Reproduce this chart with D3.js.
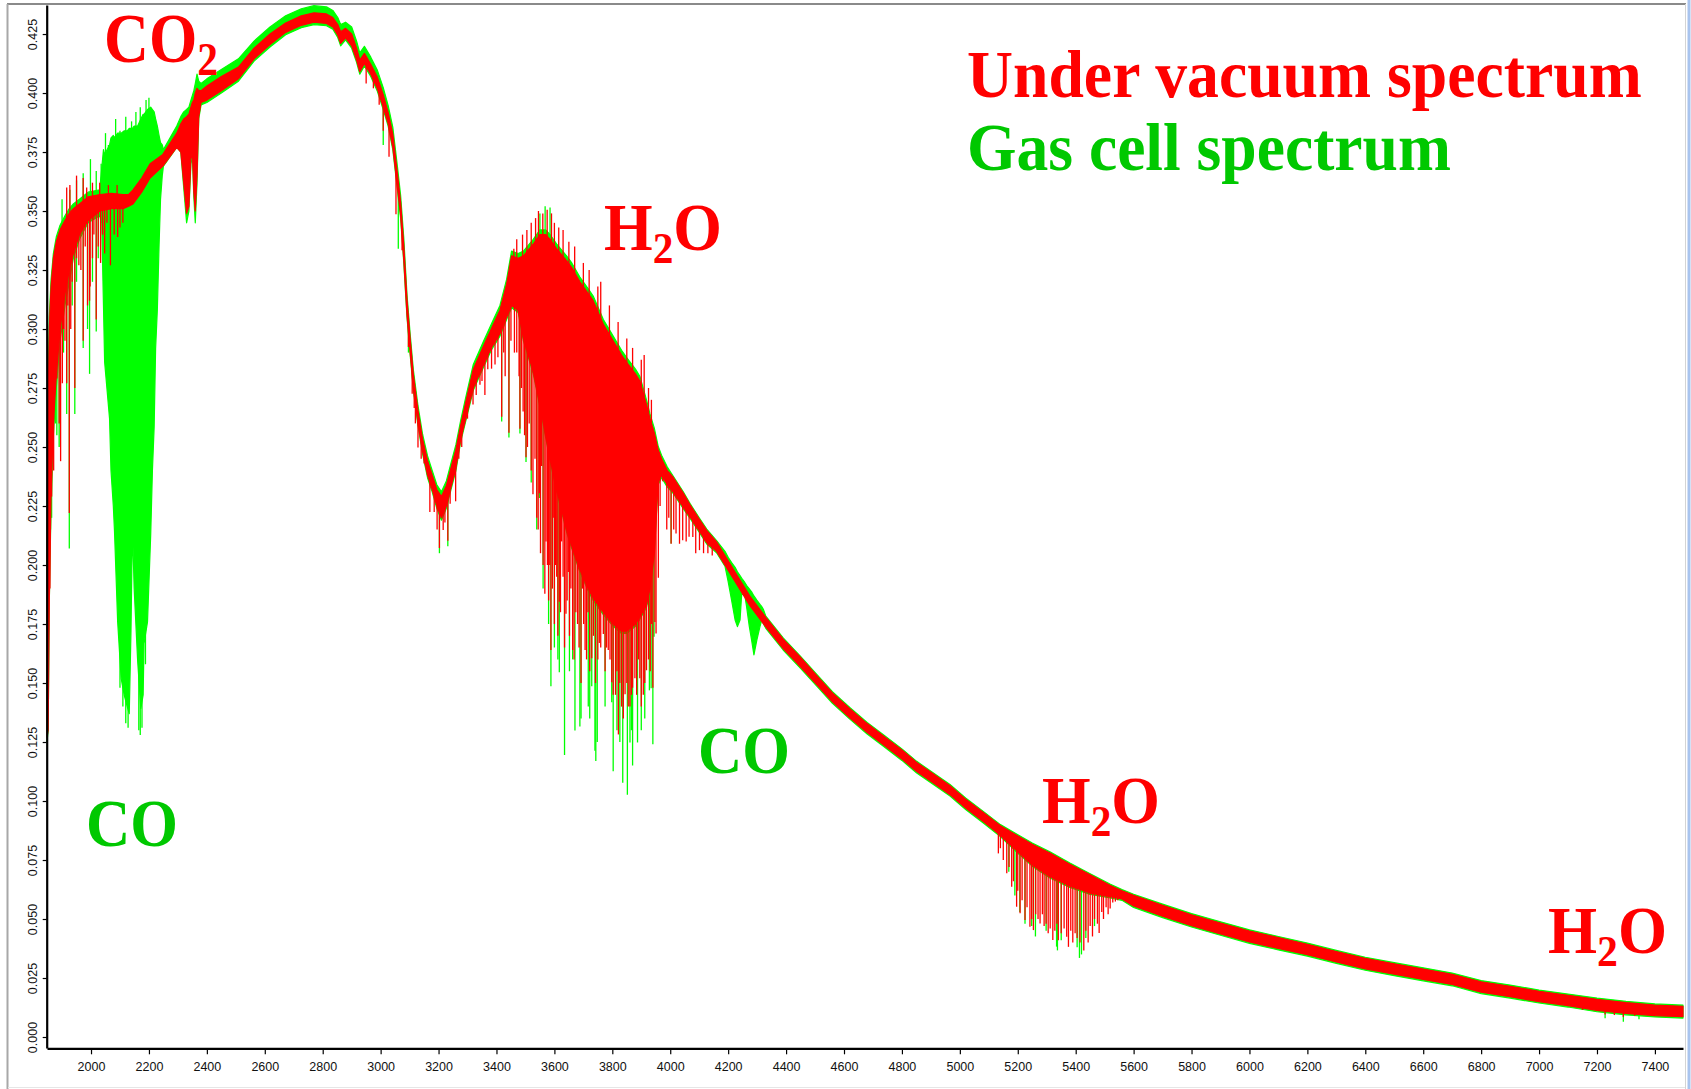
<!DOCTYPE html>
<html><head><meta charset="utf-8">
<script src="https://cdn.jsdelivr.net/npm/d3@7"></script>
<style>body{margin:0;background:#fff;overflow:hidden}svg{display:block}</style>
</head><body>
<svg id="chart" width="1691" height="1089"></svg>
<script>
// ---------- DATA: [wavenumber (cm-1), upper envelope, lower envelope] ----------
const vacuumBand = [[1848,.200,.127],[1852,.270,.130],[1856,.300,.185],[1862,.318,.230],[1870,.330,.260],[1880,.337,.280],[1893,.342,.300],[1910,.346,.315],[1925,.349,.325],[1939,.351,.332],[1960,.353,.340],[1990,.356,.346],[2031,.357,.350],[2070,.3575,.351],[2111,.357,.351],[2130,.357,.352],[2145,.359,.353],[2175,.364,.358],[2204,.370,.364],[2248,.374,.369],[2296,.383,.377],[2310,.387,.375],[2320,.389,.362],[2330,.390,.349],[2338,.391,.352],[2345,.394,.372],[2350,.396,.375],[2355,.397,.358],[2360,.400,.350],[2366,.402,.365],[2372,.401,.390],[2380,.401,.396],[2400,.403,.397],[2450,.407,.401],[2509,.411,.406],[2563,.419,.4145],[2618,.425,.4205],[2672,.4297,.4257],[2726,.4327,.4287],[2770,.434,.430],[2813,.4335,.4295],[2835,.432,.428],[2852,.429,.4245],[2862,.426,.421],[2879,.4274,.4234],[2900,.425,.420],[2917,.419,.414],[2928,.414,.409],[2944,.4168,.4125],[2966,.4122,.408],[2988,.4069,.402],[3009,.3993,.394],[3026,.3917,.387],[3042,.3826,.377],[3058,.3658,.360],[3069,.3537,.348],[3080,.3354,.329],[3091,.3126,.306],[3102,.2959,.290],[3113,.2807,.275],[3129,.2655,.260],[3145,.2533,.248],[3162,.2442,.238],[3178,.2381,.232],[3194,.232,.225],[3210,.229,.220],[3227,.2336,.225],[3243,.2412,.233],[3260,.249,.241],[3276,.259,.253],[3292,.268,.261],[3320,.283,.275],[3356,.293,.285],[3382,.300,.292],[3412,.308,.298],[3435,.319,.305],[3452,.331,.310],[3475,.330,.308],[3493,.331,.296],[3527,.336,.282],[3550,.340,.268],[3570,.340,.255],[3585,.338,.245],[3608,.334,.232],[3642,.329,.215],[3660,.326,.208],[3688,.320,.198],[3717,.315,.190],[3734,.312,.186],[3769,.302,.180],[3803,.295,.175],[3832,.289,.172],[3849,.286,.172],[3880,.281,.175],[3895,.278,.178],[3918,.268,.183],[3930,.262,.190],[3945,.256,.205],[3958,.249,.235],[3970,.245,.238],[3990,.240,.234],[4010,.2372,.231],[4045,.2305,.2245],[4068,.2256,.2205],[4100,.2195,.2145],[4126,.2147,.2095],[4160,.2098,.2058],[4220,.1978,.1938],[4275,.1868,.1828],[4330,.1778,.1738],[4390,.1686,.1646],[4450,.1608,.1568],[4506,.1531,.1493],[4560,.1458,.1420],[4621,.1390,.1352],[4680,.1328,.1290],[4736,.1276,.1238],[4800,.1216,.1178],[4851,.1163,.1125],[4910,.1113,.1075],[4966,.1065,.1027],[5020,.1008,.0970],[5081,.0951,.0913],[5140,.0895,.0855],[5196,.0855,.0790],[5250,.0817,.0730],[5311,.0780,.0680],[5380,.0732,.0640],[5450,.0687,.0610],[5520,.0642,.0595],[5560,.0620,.0585],[5600,.0600,.0555],[5700,.0558,.0512],[5800,.0518,.0472],[5900,.0483,.0437],[6000,.0449,.0403],[6100,.0421,.0375],[6200,.0393,.0349],[6300,.0362,.0318],[6400,.0333,.0289],[6500,.0310,.0266],[6600,.0288,.0244],[6700,.0266,.0223],[6800,.0234,.0190],[6900,.0215,.0171],[7000,.0194,.0150],[7100,.0177,.0133],[7200,.0160,.0113],[7300,.0146,.0100],[7400,.0135,.0091],[7497,.0130,.0086]];

const gasBand = [[1848,.200,.125],[1852,.275,.130],[1856,.305,.185],[1862,.321,.225],[1870,.332,.255],[1880,.339,.275],[1893,.344,.295],[1910,.348,.310],[1925,.351,.320],[1939,.353,.330],[1960,.355,.338],[1990,.358,.345],[2030,.359,.348],[2037,.368,.345],[2043,.376,.310],[2047,.374,.286],[2064,.378,.262],[2069,.381,.240],[2077,.382,.225],[2081,.381,.2145],[2092,.383,.176],[2104,.383,.152],[2115,.384,.1447],[2125,.384,.140],[2132,.385,.137],[2138,.385,.172],[2143,.385,.2163],[2149,.386,.190],[2161,.386,.1594],[2172,.389,.1392],[2180,.391,.145],[2183,.391,.1667],[2195,.393,.1759],[2206,.394,.2126],[2212,.393,.240],[2218,.392,.2586],[2223,.389,.2916],[2229,.386,.3082],[2235,.382,.3357],[2240,.379,.355],[2246,.378,.365],[2250,.376,.369],[2296,.386,.377],[2310,.390,.375],[2320,.392,.360],[2330,.393,.345],[2338,.394,.350],[2345,.397,.370],[2350,.399,.373],[2355,.401,.356],[2360,.404,.345],[2366,.408,.362],[2372,.405,.389],[2380,.404,.395],[2400,.406,.396],[2450,.410,.400],[2509,.4145,.405],[2563,.422,.4135],[2618,.428,.4195],[2672,.4327,.4247],[2726,.4357,.4277],[2770,.437,.429],[2813,.4365,.4285],[2835,.435,.427],[2852,.432,.4235],[2862,.429,.420],[2879,.430,.4225],[2900,.428,.419],[2917,.422,.413],[2928,.417,.408],[2944,.4198,.4115],[2966,.4152,.407],[2988,.4099,.401],[3009,.4023,.393],[3026,.3947,.386],[3042,.3856,.376],[3058,.3688,.359],[3069,.3567,.347],[3080,.3384,.328],[3091,.3146,.305],[3102,.2979,.289],[3113,.2827,.274],[3129,.2675,.259],[3145,.2553,.247],[3162,.2462,.237],[3178,.2401,.231],[3194,.234,.224],[3210,.231,.219],[3227,.2356,.224],[3243,.2432,.232],[3260,.251,.240],[3276,.261,.252],[3292,.270,.260],[3320,.285,.274],[3356,.295,.284],[3382,.302,.291],[3412,.310,.297],[3435,.321,.304],[3452,.333,.309],[3475,.332,.307],[3493,.333,.295],[3527,.338,.281],[3550,.342,.267],[3570,.342,.254],[3585,.340,.244],[3608,.336,.231],[3642,.331,.214],[3660,.328,.207],[3688,.322,.197],[3717,.317,.189],[3734,.314,.185],[3769,.304,.179],[3803,.297,.174],[3832,.291,.171],[3849,.288,.171],[3880,.283,.174],[3895,.280,.177],[3918,.270,.182],[3930,.264,.189],[3945,.258,.204],[3958,.2505,.234],[3970,.2465,.237],[3990,.2415,.233],[4010,.2377,.2304],[4045,.2310,.2239],[4068,.2261,.2199],[4100,.2200,.2139],[4126,.2152,.2089],[4160,.2103,.2052],[4189,.2058,.1995],[4200,.2033,.193],[4212,.2010,.185],[4224,.1990,.1767],[4232,.1971,.1739],[4241,.1955,.1767],[4247,.1944,.1883],[4258,.1925,.1868],[4264,.1913,.1820],[4273,.1899,.1740],[4281,.1886,.1682],[4289,.1869,.1619],[4299,.1851,.1682],[4310,.1833,.1740],[4316,.1824,.1767],[4322,.1811,.1750],[4330,.1783,.1732],[4390,.1691,.1640],[4450,.1613,.1562],[4506,.1536,.1487],[4560,.1463,.1414],[4621,.1395,.1346],[4680,.1333,.1284],[4736,.1281,.1232],[4800,.1221,.1172],[4851,.1168,.1119],[4910,.1118,.1069],[4966,.1070,.1021],[5020,.1013,.0964],[5081,.0956,.0907],[5140,.0900,.0849],[5196,.0860,.0784],[5250,.0822,.0724],[5311,.0785,.0674],[5380,.0737,.0634],[5450,.0692,.0604],[5520,.0647,.0589],[5560,.0625,.0579],[5600,.0605,.0549],[5700,.0563,.0506],[5800,.0523,.0466],[5900,.0488,.0431],[6000,.0454,.0397],[6100,.0426,.0369],[6200,.0398,.0343],[6300,.0367,.0312],[6400,.0338,.0283],[6500,.0315,.0260],[6600,.0293,.0238],[6700,.0271,.0217],[6800,.0239,.0184],[6900,.0220,.0165],[7000,.0199,.0144],[7100,.0182,.0127],[7200,.0165,.0107],[7300,.0151,.0094],[7400,.0140,.0085],[7497,.0135,.0080]];

// individual absorption / emission lines: [wavenumber, extreme value]
const vacuumLines = [[1858,.19],[1860,.25],[1864,.229],[1867,.26],[1871,.24],[1874,.300],[1878,.29],[1882,.279],[1887,.30],[1890,.26],[1895,.244],[1901,.277],[1905,.30],[1910,.295],[1916,.277],[1920,.31],[1925,.222],[1930,.30],[1935,.32],[1944,.275],[1950,.33],[1958,.327],[1965,.325],[1973,.295],[1980,.335],[1988,.31],[1995,.312],[1997,.318],[2005,.33],[2010,.34],[2018,.304],[2025,.335],[2033,.328],[2040,.34],[2047,.332],[2055,.345],[2067,.327],[2080,.34],[2092,.339],[2100,.343],[2110,.345],
[1916,.36],[1927,.361],[1950,.365],[1973,.364],[1985,.36],[2005,.362],[2030,.362],[2060,.361],[2090,.361],
[2950,.404],[2975,.402],[2995,.395],[3009,.384],[3029,.373],[3053,.3486],[3063,.355],[3074,.3334],[3085,.322],[3096,.2924],[3109,.2726],[3116,.2665],[3120,.26],[3129,.2498],[3140,.245],[3150,.243],[3170,.2225],[3185,.2225],[3195,.215],[3203,.2072],[3216,.2148],[3222,.218],[3232,.2103],[3240,.226],[3259,.227],[3270,.245],[3280,.25],[3300,.262],[3319,.268],[3330,.272],[3343,.2764],[3350,.278],[3360,.272],[3370,.283],[3383,.2832],[3395,.285],[3405,.288],[3418,.2628],[3425,.29],[3430,.28],[3443,.256],[3450,.295],[3462,.29],
[3460,.334],[3470,.338],[3490,.340],[3505,.342],[3520,.345],[3535,.347],[3545,.35],[3560,.349],[3575,.3505],[3590,.349],[3600,.345],[3615,.343],[3630,.342],[3650,.337],[3670,.335],[3700,.328],[3720,.325],[3750,.318],[3760,.32],[3790,.31],[3820,.303],[3850,.296],[3870,.292],[3900,.287],[3910,.289],[3925,.275],[3935,.27],
[3470,.29],[3478,.28],[3481,.2577],[3486,.275],[3492,.265],[3497,.255],[3502,.2457],[3507,.25],[3513,.26],[3520,.24],[3526,.23],[3533,.245],[3539,.22],[3544,.215],[3548,.2304],[3552,.205],[3556,.242],[3561,.2],[3567,.1878],[3571,.21],[3576,.20],[3580,.185],[3584,.2],[3588,.164],[3593,.19],[3596,.22],[3600,.175],[3604,.2],[3608,.195],[3612,.17],[3617,.1844],[3621,.18],[3625,.21],[3630,.195],[3635,.165],[3640,.1793],[3644,.185],[3648,.197],[3652,.17],[3657,.19],[3663,.164],[3668,.16],[3674,.18],[3680,.175],[3685,.165],[3692,.15],[3697,.19],[3701,.175],[3706,.164],[3711,.16],[3716,.18],[3722,.155],[3729,.1605],[3735,.17],[3742,.15],[3750,.16],[3755,.167],[3760,.165],[3769,.1708],[3775,.155],[3780,.165],[3786,.164],[3792,.16],[3798,.1503],[3803,.145],[3811,.145],[3816,.155],[3821,.1282],[3826,.15],[3832,.14],[3838,.135],[3844,.1452],[3850,.15],[3855,.14],[3861,.14],[3866,.145],[3870,.148],[3878,.152],[3884,.145],[3890,.16],[3895,.152],[3900,.14],[3907,.145],[3912,.15],[3918,.1554],[3925,.16],[3931,.155],[3936,.175],[3940,.148],[3947,.1759],[3951,.171],[3959,.1946],[3965,.225],[3974,.2355],[3988,.2151],[3995,.22],[4003,.209],[4012,.215],[4020,.2134],[4032,.209],[4043,.2105],[4055,.21],[4065,.212],[4078,.2119],[4088,.205],[4101,.2063],[4115,.205],[4130,.205],[4145,.204],
[5133,.0778],[5140,.080],[5150,.075],[5162,.0694],[5170,.072],[5179,.0637],[5185,.066],[5196,.0552],[5200,.062],[5208,.0524],[5215,.058],[5225,.0496],[5232,.055],[5242,.0467],[5248,.05],[5254,.0453],[5262,.052],[5270,.05],[5277,.0481],[5285,.052],[5291,.047],[5298,.048],[5305,.044],[5312,.046],[5321,.0411],[5328,.045],[5335,.048],[5340,.041],[5350,.044],[5360,.046],[5369,.0425],[5375,.0382],[5383,.045],[5390,.040],[5398,.044],[5405,.042],[5415,.040],[5428,.0367],[5435,.045],[5443,.040],[5450,.047],[5458,.0426],[5465,.05],[5475,.048],[5481,.0441],[5490,.053],[5496,.050],[5505,.055],[5512,.052],[5519,.0545],[5528,.057],[5537,.0574],[5545,.058],
[7150,.0115],[7228,.0095],[7260,.0093],[7291,.0085],[7330,.009],[7380,.0095]];

const gasLines = [[1860,.215],[1864,.220],[1868,.245],[1874,.277],[1878,.26],[1882,.255],[1890,.25],[1905,.29],[1916,.264],[1925,.207],[1935,.31],[1944,.264],[1950,.32],[1973,.292],[1988,.30],[1995,.281],[2005,.32],[2018,.299],[2025,.33],
[1900,.355],[1927,.359],[1950,.363],[1973,.366],[1998,.372],[2018,.367],[2035,.37],
[2050,.383],[2060,.378],[2085,.389],[2100,.384],[2120,.390],[2140,.388],[2155,.392],[2170,.394],[2190,.397],[2200,.398],[2215,.392],
[2100,.148],[2110,.140],[2120,.133],[2128,.131],[2165,.130],[2170,.128],[2176,.131],[2188,.158],
[3009,.378],[3061,.334],[3096,.29],[3203,.205],[3232,.208],
[3418,.2608],[3443,.254],[3481,.2557],[3502,.2437],[3520,.235],[3539,.215],[3548,.2284],[3561,.19],[3580,.175],[3550,.349],[3568,.352],[3585,.3515],[3588,.1486],[3600,.165],[3612,.16],[3617,.1546],[3635,.1195],[3652,.155],[3663,.16],[3671,.1299],[3688,.1316],[3692,.135],[3717,.140],[3722,.135],[3729,.1486],[3740,.1213],[3743,.117],[3748,.125],[3775,.14],[3798,.1418],[3803,.1126],[3816,.13],[3826,.125],[3836,.1077],[3852,.1026],[3861,.1248],[3866,.13],[3870,.115],[3887,.1248],[3900,.13],[3912,.135],[3928,.1469],[3934,.1478],[3940,.124],[3944,.1696],[4003,.2091],
[5169,.070],[5190,.06],[5207,.053],[5225,.048],[5248,.047],[5261,.0426],[5298,.045],[5334,.0383],[5337,.0367],[5350,.041],[5405,.038],[5413,.0335],[5420,.035],[5435,.042],[5465,.047],
[7228,.0079],[7291,.0065],[7345,.0075]];

const xTickValues = [2000,2200,2400,2600,2800,3000,3200,3400,3600,3800,4000,4200,4400,4600,4800,5000,5200,5400,5600,5800,6000,6200,6400,6600,6800,7000,7200,7400];
const yTickValues = [0,0.025,0.05,0.075,0.1,0.125,0.15,0.175,0.2,0.225,0.25,0.275,0.3,0.325,0.35,0.375,0.4,0.425];
const legendTexts = ["Under vacuum spectrum", "Gas cell spectrum"];

// ---------- DRAW ----------
const svg = d3.select("#chart");
const RED = "#ff0000", GREEN = "#00ff00", TXT_RED = "#ff0000", TXT_GREEN = "#00c800";
const x = d3.scaleLinear().domain([1848, 7497]).range([47, 1683]);
const y = d3.scaleLinear().domain([-0.00466, 0.4373]).range([1048, 5]);

// frame
svg.append("rect").attr("x",0).attr("y",0).attr("width",1691).attr("height",1089).attr("fill","#fff");
svg.append("line").attr("x1",7).attr("x2",1686).attr("y1",4).attr("y2",4).attr("stroke","#8a8a8a").attr("stroke-width",2);
svg.append("line").attr("x1",7.5).attr("x2",7.5).attr("y1",4).attr("y2",1089).attr("stroke","#a8a8a8").attr("stroke-width",2);
svg.append("line").attr("x1",1685.5).attr("x2",1685.5).attr("y1",4).attr("y2",1089).attr("stroke","#d4d4d4").attr("stroke-width",1);
svg.append("line").attr("x1",1689).attr("x2",1689).attr("y1",0).attr("y2",1089).attr("stroke","#a9c4ee").attr("stroke-width",3);
svg.append("line").attr("x1",8).attr("x2",1685).attr("y1",1087.5).attr("y2",1087.5).attr("stroke","#e6e6e6").attr("stroke-width",1);

const plot = svg.append("g");
const area = d3.area().x(d=>x(d[0])).y0(d=>y(d[2])).y1(d=>y(d[1])).curve(d3.curveLinear);
const bis = d3.bisector(d=>d[0]).left;
function midAt(band, w) {
  const i = Math.max(1, Math.min(band.length-1, bis(band, w)));
  const a = band[i-1], b = band[i];
  const t = (w - a[0]) / (b[0]-a[0]);
  return ((a[1]+a[2])/2)*(1-t) + ((b[1]+b[2])/2)*t;
}
function drawSeries(band, lines, color) {
  plot.append("path").attr("d", area(band)).attr("fill", color).attr("stroke", color).attr("stroke-width", 1.2).attr("stroke-linejoin","round");
  plot.append("g").selectAll("line").data(lines).join("line")
    .attr("x1", d=>x(d[0])).attr("x2", d=>x(d[0]))
    .attr("y1", d=>y(midAt(band,d[0]))).attr("y2", d=>y(d[1]))
    .attr("stroke", color).attr("stroke-width", 1.3);
}
drawSeries(gasBand, gasLines, GREEN);
drawSeries(vacuumBand, vacuumLines, RED);

// axes
const xAxis = svg.append("g").attr("transform","translate(0,1048.3)")
  .call(d3.axisBottom(x).tickValues(xTickValues).tickSize(6).tickSizeOuter(0).tickFormat(d3.format("d")));
xAxis.select(".domain").attr("stroke","#000").attr("stroke-width",2.2);
xAxis.selectAll(".tick line").attr("stroke","#000").attr("stroke-width",1.2);
xAxis.selectAll(".tick text").attr("y", 14).attr("dy", "0.71em").attr("font-family","Liberation Sans, Arial, sans-serif").attr("font-size", 12.5).attr("fill","#111");

const yAxis = svg.append("g").attr("transform","translate(46.7,0)")
  .call(d3.axisLeft(y).tickValues(yTickValues).tickSize(4).tickSizeOuter(0).tickFormat(d3.format(".3f")));
yAxis.select(".domain").attr("stroke","#000").attr("stroke-width",2.2);
yAxis.selectAll(".tick line").attr("stroke","#000").attr("stroke-width",1.2);
yAxis.selectAll(".tick text").attr("x",0).attr("dy",0).attr("text-anchor","middle")
  .attr("transform","translate(-10,0) rotate(-90)")
  .attr("font-family","Liberation Sans, Arial, sans-serif").attr("font-size", 12.5).attr("fill","#111");

// annotations: parts [text, isSubscript], left x, baseline y, target width
const annotations = [
  {parts:[["CO",0],["2",1]], x:104, y:62, w:114, size:69, color:TXT_RED},
  {parts:[["H",0],["2",1],["O",0]], x:604, y:250, w:118, size:68, color:TXT_RED},
  {parts:[["CO",0]], x:698, y:773, w:92, size:68, color:TXT_GREEN},
  {parts:[["CO",0]], x:86, y:846, w:92, size:68, color:TXT_GREEN},
  {parts:[["H",0],["2",1],["O",0]], x:1042, y:823, w:118, size:68, color:TXT_RED},
  {parts:[["H",0],["2",1],["O",0]], x:1548, y:953, w:119, size:68, color:TXT_RED},
  {parts:[[legendTexts[0],0]], x:967, y:97, w:675, size:68, color:TXT_RED},
  {parts:[[legendTexts[1],0]], x:967, y:170, w:484, size:68, color:TXT_GREEN}
];
annotations.forEach(a => {
  const g = svg.append("g");
  const t = g.append("text").attr("x",0).attr("y",0)
    .attr("font-family","Liberation Serif, 'Times New Roman', serif").attr("font-weight","bold")
    .attr("font-size", a.size).attr("fill", a.color);
  let shifted = 0;
  a.parts.forEach(([s, sub]) => {
    const dy = sub ? Math.round(a.size*0.19) : -shifted;
    t.append("tspan").attr("font-size", sub ? Math.round(a.size*0.66) : a.size).attr("dy", dy).text(s);
    shifted = sub ? dy : 0;
  });
  const bb = t.node().getBBox();
  const sx = a.w / bb.width;
  t.attr("x", -bb.x);
  g.attr("transform", `translate(${a.x},${a.y}) scale(${sx},1)`);
});
</script>
</body></html>
